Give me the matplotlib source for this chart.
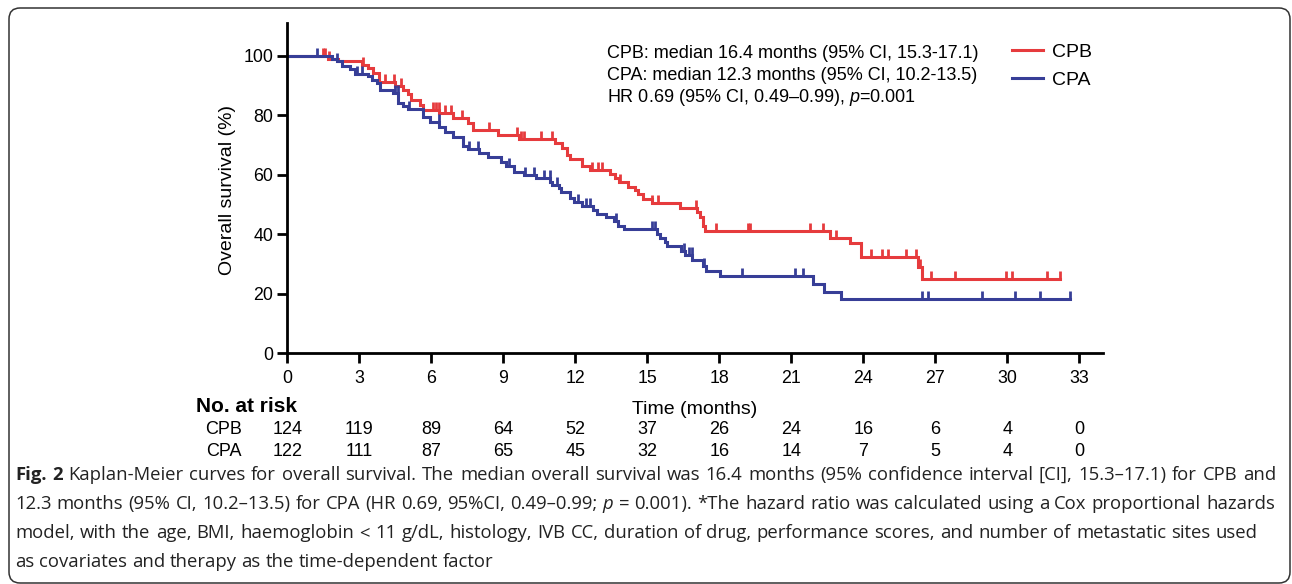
import numpy as np
import matplotlib
matplotlib.use("Agg")
import matplotlib.pyplot as plt
from matplotlib.path import Path
from matplotlib.patches import FancyBboxPatch
from matplotlib.transforms import IdentityTransform, blended_transform_factory

plt.rcParams['font.family'] = ['Liberation Sans', 'DejaVu Sans']
plt.rcParams['mathtext.fontset'] = 'custom'
plt.rcParams['mathtext.rm'] = 'Liberation Sans'
plt.rcParams['mathtext.it'] = 'Liberation Sans:italic'

# Kaplan-Meier steps (months, survival % after the drop)
cpb_t = [0, 1.7, 2.13, 3.1, 3.37, 3.57, 3.8, 4.48, 4.82, 5.03, 5.17, 5.51,
         5.65, 6.34, 6.9, 7.52, 7.72, 8.76, 9.66, 11.15, 11.44, 11.65, 11.78, 12.27,
         12.61, 13.45, 13.66, 13.8, 14.2, 14.49, 14.63, 14.83, 15.18, 16.36, 17.06, 17.19,
         17.33, 17.4, 22.61, 23.44, 23.9, 26.27, 26.44]
cpb_s = [100, 98.9, 98.1, 96.9, 95.8, 94.2, 91.1, 89.8, 88.6, 87.0, 85.0, 83.6,
         81.6, 80.6, 79.2, 77.5, 75.0, 73.3, 71.9, 70.6, 69.1, 66.5, 65.4, 63.0,
         61.6, 60.2, 58.8, 57.6, 56.0, 54.8, 53.5, 51.8, 50.4, 48.8, 47.4, 45.7,
         42.9, 41.0, 38.8, 37.0, 32.5, 29.0, 24.9]
cpb_end = 32.2
cpb_cens = [1.48, 1.58, 1.75, 3.14, 4.06, 4.45, 4.75, 6.07, 6.2, 6.3, 6.55, 6.83,
            7.28, 8.42, 9.59, 9.73, 9.87, 10.56, 11.02, 12.71, 12.93, 13.13, 13.85,
            15.18, 15.46, 17.02, 17.85, 19.2, 19.28, 21.78, 22.33, 22.87, 24.34,
            24.79, 25.04, 25.78, 26.2, 26.36, 26.84, 27.84, 29.95, 30.2, 31.67, 32.2]

cpa_t = [0, 1.85, 2.06, 2.27, 2.61, 2.82, 3.37, 3.51, 3.72, 3.86, 4.41, 4.61,
         4.82, 5.03, 5.65, 5.93, 6.34, 6.55, 6.9, 7.31, 7.52, 8.0, 8.35, 8.9,
         9.11, 9.45, 9.85, 10.37, 10.95, 11.02, 11.34, 11.4, 11.78, 11.95, 12.27, 12.72,
         12.89, 13.28, 13.62, 13.79, 14.02, 15.39, 15.52, 15.73, 15.8, 16.42, 16.56, 16.88,
         17.32, 17.43, 18.02, 21.92, 22.38, 23.07]
cpa_s = [100, 98.9, 98.2, 96.4, 95.4, 94.0, 93.2, 92.0, 90.8, 88.6, 87.4, 84.2,
         83.0, 82.2, 79.4, 77.8, 76.1, 74.4, 72.8, 69.7, 68.6, 67.2, 66.1, 64.4,
         62.8, 60.8, 59.9, 58.8, 57.6, 56.6, 55.4, 54.3, 52.1, 50.9, 49.4, 48.2,
         46.8, 45.7, 44.4, 42.9, 41.6, 40.1, 38.7, 37.3, 36.0, 34.5, 33.1, 31.2,
         29.5, 27.7, 25.9, 23.2, 20.6, 18.2]
cpa_end = 32.6
cpa_cens = [1.23, 2.06, 2.89, 3.1, 4.48, 4.6, 5.07, 6.32, 7.55, 7.93, 9.25, 9.9,
            10.28, 10.68, 10.93, 11.22, 12.13, 12.45, 12.61, 13.69, 15.18, 15.33,
            16.52, 16.74, 16.86, 17.36, 18.96, 21.15, 21.5, 26.44, 26.69, 28.93,
            30.32, 31.36, 32.6]

time_ticks = list(range(0, 34, 3))
risk_cpb = [124, 119, 89, 64, 52, 37, 26, 24, 16, 6, 4, 0]
risk_cpa = [122, 111, 87, 65, 45, 32, 16, 14, 7, 5, 4, 0]

RED = '#E63B3D'
BLUE = '#373E97'
W, H = 1292, 584

fig = plt.figure(figsize=(W / 100, H / 100), dpi=100)
ax = fig.add_axes([287.3 / W, 1 - 353.3 / H, 34 * 24 / W, 111 * 2.976 / H])

cens_marker = Path([(0, 0), (0, 1)], [Path.MOVETO, Path.LINETO])


def km(t, s, end, cens, color, label):
    t = np.asarray(t)
    s = np.asarray(s)
    line, = ax.step(np.r_[t, end], np.r_[s, s[-1]], where='post', color=color,
                    lw=2.2, label=label, solid_joinstyle='miter')
    c = np.asarray(cens)
    cy = s[np.searchsorted(t, c, side='right') - 1]
    ax.plot(c, cy, ls='none', marker=cens_marker, ms=11, mew=2, color=color,
            clip_on=False)
    return line


l_cpb = km(cpb_t, cpb_s, cpb_end, cpb_cens, RED, 'CPB')
l_cpa = km(cpa_t, cpa_s, cpa_end, cpa_cens, BLUE, 'CPA')

ax.set_xlim(0, 34)
ax.set_ylim(0, 111)
ax.set_xticks(time_ticks)
ax.set_yticks(range(0, 101, 20))
for side in ['top', 'right']:
    ax.spines[side].set_visible(False)
for side in ['left', 'bottom']:
    ax.spines[side].set_linewidth(2)
ax.tick_params(width=2, length=7, labelsize=12.8)
ax.tick_params(axis='x', pad=5)
ax.tick_params(axis='y', pad=3)

fig.text(227 / W, 1 - 190 / H, 'Overall survival (%)', rotation=90,
         ha='center', va='center', fontsize=14)
fig.text(695 / W, 1 - 409 / H, 'Time (months)', ha='center', va='center',
         fontsize=14)

# annotation and legend
notes = ['CPB: median 16.4 months (95% CI, 15.3-17.1)',
         'CPA: median 12.3 months (95% CI, 10.2-13.5)',
         r'HR 0.69 (95% CI, 0.49–0.99), $\it{p}$=0.001']
for i, txt in enumerate(notes):
    fig.text(607 / W, 1 - (58 + 22 * i) / H, txt, fontsize=13, va='baseline')

ax.legend(handles=[l_cpb, l_cpa], loc='upper left',
          bbox_to_anchor=(1012 / W, 1 - 43 / H), bbox_transform=fig.transFigure,
          frameon=False, borderpad=0, borderaxespad=0, handlelength=1.6,
          handletextpad=0.45, labelspacing=0.55, fontsize=14)

# number at risk
tr = blended_transform_factory(ax.transData, fig.transFigure)
fig.text(196 / W, 1 - 407 / H, 'No. at risk', fontsize=15, fontweight='bold',
         va='center')
for name, row, ypx in [('CPB', risk_cpb, 430), ('CPA', risk_cpa, 451)]:
    fig.text(242 / W, 1 - ypx / H, name, fontsize=13, ha='right', va='center')
    for x, n in zip(time_ticks, row):
        ax.text(x, 1 - ypx / H, str(n), transform=tr, fontsize=13,
                ha='center', va='center')

# caption, justified word by word
CAP_FONT = ['Open Sans', 'DejaVu Sans']
cap_lines = [
    "Fig. 2 Kaplan-Meier curves for overall survival. The median overall survival was 16.4 months (95% confidence interval [CI], 15.3–17.1) for CPB and",
    "12.3 months (95% CI, 10.2–13.5) for CPA (HR 0.69, 95%CI, 0.49–0.99; p = 0.001). *The hazard ratio was calculated using a Cox proportional hazards",
    "model, with the age, BMI, haemoglobin < 11 g/dL, histology, IVB CC, duration of drug, performance scores, and number of metastatic sites used",
    "as covariates and therapy as the time-dependent factor",
]
cap_right = [1276, 1275, 1258, None]
cap_base = [480, 509, 538, 567]
x0 = 15

renderer = fig.canvas.get_renderer()


def text_w(s, size, weight='normal', style='normal'):
    t = fig.text(0, 0, s, fontsize=size, family=CAP_FONT, fontweight=weight,
                 fontstyle=style)
    w = t.get_window_extent(renderer).width
    t.remove()
    return w


def tokens(i, line):
    out = []
    for j, w in enumerate(line.split(' ')):
        weight = 'bold' if (i == 0 and j < 2) else 'normal'
        style = 'italic' if (i == 1 and w == 'p') else 'normal'
        out.append((w, weight, style))
    return out


base = 11.0
fit = []
sp0 = text_w('a a', base) - text_w('aa', base)
for i, line in enumerate(cap_lines):
    if cap_right[i] is None:
        continue
    toks = tokens(i, line)
    nat = sum(text_w(w, base, wt, st) for w, wt, st in toks) + sp0 * (len(toks) - 1)
    fit.append((cap_right[i] - x0) / nat)
size = base * min(fit) * 0.99
sp = text_w('a a', size) - text_w('aa', size)

for i, line in enumerate(cap_lines):
    toks = tokens(i, line)
    widths = [text_w(w, size, wt, st) for w, wt, st in toks]
    if cap_right[i] is None:
        gap = sp
    else:
        gap = (cap_right[i] - x0 - sum(widths)) / (len(toks) - 1)
    x = x0
    for (w, wt, st), wd in zip(toks, widths):
        fig.text(x / W, 1 - cap_base[i] / H, w, fontsize=size, family=CAP_FONT,
                 fontweight=wt, fontstyle=st, va='baseline', color='#222222')
        x += wd + gap

# rounded frame around the whole panel
frame = FancyBboxPatch((9, 1), 1281, 575, boxstyle='round,pad=0,rounding_size=11',
                       transform=IdentityTransform(), fill=False, ec='#333333', lw=1.1)
fig.add_artist(frame)

fig.savefig('out.png', dpi=100)
